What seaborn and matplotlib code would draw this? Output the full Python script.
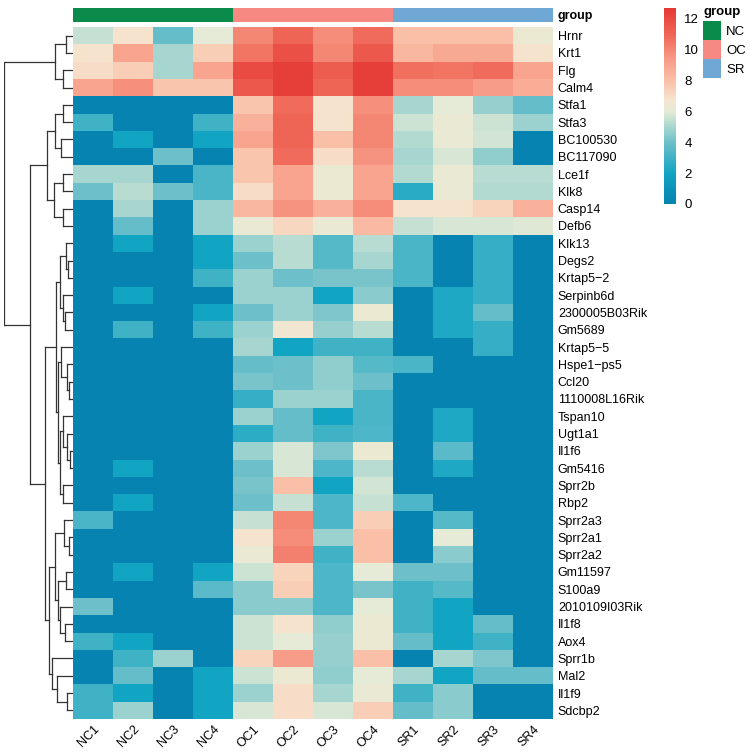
import numpy as np
import pandas as pd
import matplotlib
matplotlib.use("Agg")
import matplotlib.pyplot as plt
import seaborn as sns
from matplotlib.colors import LinearSegmentedColormap, ListedColormap
from matplotlib.patches import Patch

# samples and genes
nc_samples = ["NC1", "NC2", "NC3", "NC4"]
oc_samples = ["OC1", "OC2", "OC3", "OC4"]
sr_samples = ["SR1", "SR2", "SR3", "SR4"]

genes = ["Hrnr", "Krt1", "Flg", "Calm4", "Stfa1", "Stfa3", "BC100530", "BC117090",
         "Lce1f", "Klk8", "Casp14", "Defb6", "Klk13", "Degs2", "Krtap5\u22122",
         "Serpinb6d", "2300005B03Rik", "Gm5689", "Krtap5\u22125", "Hspe1\u2212ps5",
         "Ccl20", "1110008L16Rik", "Tspan10", "Ugt1a1", "Il1f6", "Gm5416", "Sprr2b",
         "Rbp2", "Sprr2a3", "Sprr2a1", "Sprr2a2", "Gm11597", "S100a9",
         "2010109I03Rik", "Il1f8", "Aox4", "Sprr1b", "Mal2", "Il1f9", "Sdcbp2"]

nc_values = [
    [5.5, 6.8, 3.8, 6.0], [6.8, 9.0, 5.0, 7.5], [7.0, 7.5, 5.0, 9.0], [9.0, 9.7, 7.8, 7.8],
    [0, 0, 0, 0], [3.0, 0, 0, 3.0], [0, 2.0, 0, 2.0], [0, 0, 4.0, 0],
    [5.0, 5.0, 0, 3.2], [4.0, 5.3, 4.0, 3.2], [0, 5.0, 0, 4.8], [0, 3.8, 0, 4.8],
    [0, 2.0, 0, 2.0], [0, 0, 0, 2.0], [0, 0, 0, 3.0], [0, 2.0, 0, 0],
    [0, 0, 0, 2.0], [0, 3.0, 0, 3.0], [0, 0, 0, 0], [0, 0, 0, 0],
    [0, 0, 0, 0], [0, 0, 0, 0], [0, 0, 0, 0], [0, 0, 0, 0],
    [0, 0, 0, 0], [0, 2.0, 0, 0], [0, 0, 0, 0], [0, 2.0, 0, 0],
    [3.2, 0, 0, 0], [0, 0, 0, 0], [0, 0, 0, 0], [0, 2.0, 0, 2.0],
    [0, 0, 0, 3.6], [4.0, 0, 0, 0], [0, 0, 0, 0], [3.0, 2.0, 0, 0],
    [0, 3.0, 4.8, 0], [0, 3.8, 0, 2.0], [3.0, 2.0, 0, 2.0], [3.0, 4.8, 0, 2.0],
]
oc_values = [
    [10.0, 11.0, 9.8, 10.8], [10.5, 11.8, 10.0, 11.5], [12.0, 12.5, 11.3, 12.5], [11.5, 12.5, 11.0, 12.5],
    [7.8, 10.8, 6.8, 9.7], [8.5, 11.0, 6.8, 10.0], [9.0, 11.0, 8.0, 10.0], [7.8, 10.8, 7.0, 9.6],
    [7.8, 9.0, 6.3, 9.0], [7.0, 9.0, 6.3, 9.0], [8.3, 9.6, 8.5, 9.8], [6.2, 7.2, 6.2, 8.2],
    [4.8, 5.3, 3.5, 5.3], [4.0, 5.3, 3.5, 5.0], [4.8, 4.0, 4.2, 4.2], [4.8, 4.8, 2.0, 4.5],
    [4.0, 4.8, 4.3, 6.3], [4.8, 6.5, 4.7, 5.3], [5.0, 2.0, 3.0, 3.0], [3.8, 4.0, 4.6, 3.5],
    [4.2, 4.0, 4.6, 4.0], [2.8, 4.8, 4.8, 3.2], [4.8, 3.8, 2.0, 3.2], [2.6, 3.8, 3.0, 3.3],
    [4.8, 5.8, 4.3, 6.3], [4.0, 5.8, 3.3, 5.3], [4.2, 8.0, 2.0, 5.7], [4.0, 5.5, 3.3, 5.5],
    [5.5, 10.0, 3.3, 7.5], [6.8, 9.8, 4.8, 8.0], [6.2, 10.2, 3.0, 8.0], [5.6, 7.3, 3.3, 6.0],
    [4.5, 7.5, 3.3, 4.2], [4.5, 4.5, 3.3, 6.0], [5.6, 6.8, 4.6, 6.3], [5.6, 6.0, 4.7, 6.3],
    [7.3, 9.3, 4.7, 8.0], [5.6, 6.3, 4.6, 6.0], [4.8, 7.0, 5.0, 6.2], [5.8, 7.0, 5.8, 7.5],
]
sr_values = [
    [8.0, 8.0, 8.0, 6.3], [8.3, 8.8, 8.8, 6.8], [10.7, 10.5, 10.8, 9.0], [9.8, 9.8, 9.3, 8.7],
    [5.0, 6.0, 4.7, 3.8], [5.6, 6.2, 5.6, 4.8], [5.2, 6.2, 5.7, 0], [5.0, 5.8, 4.6, 0],
    [5.2, 6.2, 5.3, 5.3], [2.5, 6.2, 5.2, 5.2], [6.8, 6.8, 7.3, 8.5], [5.5, 5.8, 5.8, 5.9],
    [3.2, 0, 2.8, 0], [3.2, 0, 2.8, 0], [3.2, 0, 2.8, 0], [0, 2.3, 2.8, 0],
    [0, 2.3, 3.8, 0], [0, 2.3, 2.8, 0], [0, 0, 2.8, 0], [3.2, 0, 0, 0],
    [0, 0, 0, 0], [0, 0, 0, 0], [0, 2.3, 0, 0], [0, 2.3, 0, 0],
    [0, 3.6, 0, 0], [0, 2.3, 0, 0], [0, 0, 0, 0], [3.3, 0, 0, 0],
    [0, 3.5, 0, 0], [0, 6.0, 0, 0], [0, 4.5, 0, 0], [4.0, 4.0, 0, 0],
    [3.0, 3.5, 0, 0], [3.0, 2.0, 0, 0], [3.0, 2.0, 3.8, 0], [3.8, 2.0, 3.0, 0],
    [0, 5.0, 4.3, 0], [5.0, 2.0, 3.8, 3.8], [3.0, 4.5, 0, 0], [3.8, 4.5, 0, 0],
]

group_names = ["NC", "OC", "SR"]
group_colors = ["#0B8B4B", "#F68A82", "#6FA8D5"]

# row dendrogram: (node, left, right, merge height)
row_tree = [
    ("hk", "Hrnr", "Krt1", 7), ("fc", "Flg", "Calm4", 10), ("top", "hk", "fc", 18),
    ("s13", "Stfa1", "Stfa3", 10), ("bc", "BC100530", "BC117090", 12), ("B1", "s13", "bc", 18),
    ("lk", "Lce1f", "Klk8", 10), ("cd", "Casp14", "Defb6", 10), ("B2", "lk", "cd", 19),
    ("B", "B1", "B2", 26),
    ("dk", "Degs2", "Krtap5\u22122", 5), ("kdk", "Klk13", "dk", 7),
    ("rg", "2300005B03Rik", "Gm5689", 8), ("srg", "Serpinb6d", "rg", 10), ("G1", "kdk", "srg", 13),
    ("c1", "Ccl20", "1110008L16Rik", 4), ("hc", "Hspe1\u2212ps5", "c1", 6.5),
    ("G2", "Krtap5\u22125", "hc", 12),
    ("ig", "Il1f6", "Gm5416", 3.5), ("uig", "Ugt1a1", "ig", 6), ("G3", "Tspan10", "uig", 10),
    ("G4", "Sprr2b", "Rbp2", 10), ("J", "G3", "G4", 13), ("H", "G2", "J", 15.5),
    ("C1", "G1", "H", 17),
    ("aa", "Sprr2a1", "Sprr2a2", 4), ("K", "Sprr2a3", "aa", 9),
    ("gs", "Gm11597", "S100a9", 7), ("ia", "Il1f8", "Aox4", 8), ("ria", "2010109I03Rik", "ia", 13),
    ("L", "gs", "ria", 15), ("M", "K", "L", 18),
    ("is", "Il1f9", "Sdcbp2", 6), ("mis", "Mal2", "is", 16), ("N", "Sprr1b", "mis", 21),
    ("C2", "M", "N", 24), ("C", "C1", "C2", 28), ("A", "B", "C", 43), ("root", "top", "A", 69),
]

samples = nc_samples + oc_samples + sr_samples
mat = np.hstack([np.array(nc_values), np.array(oc_values), np.array(sr_values)])
df = pd.DataFrame(mat, index=genes, columns=samples)

vmax = 12.7
cmap_stops = [(0, "#0683B0"), (2, "#12A4C3"), (4, "#6EC0CA"), (5, "#A8D6D0"),
              (6, "#E6EBD6"), (6.8, "#F6E4CE"), (8, "#FABFA7"), (9.5, "#F79784"),
              (11, "#EF6555"), (vmax, "#E53935")]
cmap = LinearSegmentedColormap.from_list("expr", [(v / vmax, c) for v, c in cmap_stops])

plt.rcParams['font.family'] = ['Liberation Sans', 'DejaVu Sans']
fig = plt.figure(figsize=(7.5, 7.55), dpi=100)
W, H = 750.0, 755.0

def box(x0, y0, x1, y1):
    return [x0 / W, 1 - y1 / H, (x1 - x0) / W, (y1 - y0) / H]

ax = fig.add_axes(box(73, 27, 553, 719))
ax_ann = fig.add_axes(box(73, 8, 553, 22))
ax_den = fig.add_axes(box(4, 27, 73, 719))
cax = fig.add_axes(box(664, 8, 676, 204))

sns.heatmap(df, ax=ax, cmap=cmap, vmin=0, vmax=vmax, cbar_ax=cax,
            xticklabels=True, yticklabels=True)
ax.yaxis.tick_right()
ax.tick_params(axis='y', length=0, pad=3.5, labelsize=9, labelright=True, labelleft=False)
ax.tick_params(axis='x', length=0, pad=3, labelsize=9)
plt.setp(ax.get_yticklabels(), rotation=0)
plt.setp(ax.get_xticklabels(), rotation=45, ha='right', va='top', rotation_mode='anchor')
ax.set_xlabel("")
ax.set_ylabel("")

cax.tick_params(length=0, labelsize=9.5, pad=6)
cax.set_yticks([0, 2, 4, 6, 8, 10, 12])
for s in cax.spines.values():
    s.set_visible(False)

# annotation bar
codes = np.repeat(np.arange(3), 4)[None, :]
sns.heatmap(codes, ax=ax_ann, cmap=ListedColormap(group_colors), cbar=False,
            xticklabels=False, yticklabels=["group"], vmin=-0.5, vmax=2.5)
ax_ann.yaxis.tick_right()
ax_ann.tick_params(axis='y', length=0, pad=3.5, labelright=True, labelleft=False)
for t in ax_ann.get_yticklabels():
    t.set_rotation(0)
    t.set_fontweight('bold')
    t.set_fontsize(9)

# dendrogram
pos = {g: i + 0.5 for i, g in enumerate(genes)}
hgt = {g: 0.0 for g in genes}
for name, left, right, h in row_tree:
    for child in (left, right):
        ax_den.plot([hgt[child], h], [pos[child], pos[child]], color='#333333', lw=0.9)
    ax_den.plot([h, h], [pos[left], pos[right]], color='#333333', lw=0.9)
    pos[name] = (pos[left] + pos[right]) / 2
    hgt[name] = h
ax_den.set_xlim(69, 0)
ax_den.set_ylim(len(genes), 0)
ax_den.axis('off')

handles = [Patch(facecolor=c, edgecolor='none', label=n) for n, c in zip(group_names, group_colors)]
leg = fig.legend(handles=handles, title="group", loc='upper left',
                 bbox_to_anchor=(703 / W, 1 - 6 / H), frameon=False, fontsize=9.5,
                 title_fontproperties={'weight': 'bold', 'size': 9.5},
                 handlelength=1.36, handleheight=1.85, labelspacing=0.0,
                 handletextpad=0.4, borderaxespad=0, borderpad=0)
leg._legend_box.align = "left"
leg._legend_box.sep = 2

fig.savefig("out.png", dpi=100)
